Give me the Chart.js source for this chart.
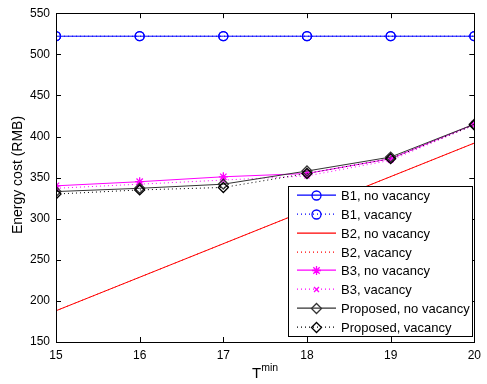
<!DOCTYPE html>
<html>
<head>
<meta charset="utf-8">
<script src="https://cdn.jsdelivr.net/npm/chart.js@4.4.1/dist/chart.umd.min.js"></script>
<style>
  html, body { margin: 0; padding: 0; background: #fff; }
  #wrap { width: 487px; height: 384px; }
</style>
</head>
<body>
<div id="wrap"><canvas id="c"></canvas></div>
<script>
// T^min values on x axis
const tmin = [15, 16, 17, 18, 19, 20];

// energy cost (RMB) per series
const b1NoVac = [522, 522, 522, 522, 522, 522];
const b1Vac = [522, 522, 522, 522, 522, 522];
const b2NoVac = [188, null, null, null, null, 392];
const b2Vac = [188, null, null, null, null, 392];
const b3NoVac = [340, 345, 351, 355, 373, 415];
const b3Vac = [337, 342, 347, 352, 371, 414];
const propNoVac = [333, 337, 342, 358, 375, 415];
const propVac = [330, 335, 338, 355, 373, 414];

const yTicks = [150, 200, 250, 300, 350, 400, 450, 500, 550];

const FONT = 'Liberation Sans, Arial, Helvetica, sans-serif';

function pts(arr) {
  return tmin.map((t, i) => ({ x: t, y: arr[i] }));
}

const series = [
  { label: 'B1, no vacancy', data: b1NoVac, color: '#0000ff', dotted: false, style: 'circle', r: 4.5 },
  { label: 'B1, vacancy', data: b1Vac, color: '#0000ff', dotted: true, style: 'circle', r: 4.5 },
  { label: 'B2, no vacancy', data: b2NoVac, color: '#ff0000', dotted: false, style: false, r: 0 },
  { label: 'B2, vacancy', data: b2Vac, color: '#ff0000', dotted: true, style: false, r: 0 },
  { label: 'B3, no vacancy', data: b3NoVac, color: '#ff00ff', dotted: false, style: 'star', r: 4.5 },
  { label: 'B3, vacancy', data: b3Vac, color: '#ff00ff', dotted: true, style: 'crossRot', r: 3.5 },
  { label: 'Proposed, no vacancy', data: propNoVac, color: '#333333', dotted: false, style: 'rectRot', r: 5 },
  { label: 'Proposed, vacancy', data: propVac, color: '#000000', dotted: true, style: 'rectRot', r: 5 }
];

const datasets = series.map((s, i) => ({
  label: s.label,
  data: pts(s.data),
  borderColor: s.color,
  backgroundColor: 'rgba(0,0,0,0)',
  borderWidth: 1,
  borderDash: s.dotted ? [1, 3] : [],
  pointStyle: s.style,
  pointRadius: s.r,
  pointBorderColor: s.color,
  pointBackgroundColor: 'rgba(0,0,0,0)',
  pointBorderWidth: 1.3,
  spanGaps: true,
  tension: 0,
  order: series.length - i
}));

// frame, inward ticks, axis titles and MATLAB-like legend
const decor = {
  id: 'decor',
  afterDatasetsDraw(chart) {
    const ctx = chart.ctx;
    const a = chart.chartArea;
    const xs = chart.scales.x, ys = chart.scales.y;
    ctx.save();
    ctx.strokeStyle = '#000';
    ctx.lineWidth = 1;
    ctx.setLineDash([]);
    ctx.strokeRect(Math.round(a.left) + 0.5, Math.round(a.top) + 0.5,
      Math.round(a.right - a.left), Math.round(a.bottom - a.top));
    const tl = 5;
    ctx.beginPath();
    tmin.forEach(t => {
      const x = Math.round(xs.getPixelForValue(t)) + 0.5;
      ctx.moveTo(x, a.bottom); ctx.lineTo(x, a.bottom - tl);
      ctx.moveTo(x, a.top); ctx.lineTo(x, a.top + tl);
    });
    yTicks.forEach(v => {
      const y = Math.round(ys.getPixelForValue(v)) + 0.5;
      ctx.moveTo(a.left, y); ctx.lineTo(a.left + tl, y);
      ctx.moveTo(a.right, y); ctx.lineTo(a.right - tl, y);
    });
    ctx.stroke();

    // legend box
    const lx = 288, ly = 186, lw = 184, lh = 150;
    ctx.fillStyle = '#fff';
    ctx.fillRect(lx, ly, lw, lh);
    ctx.strokeStyle = '#000';
    ctx.strokeRect(lx + 0.5, ly + 0.5, lw, lh);
    ctx.restore();

    const rowH = lh / series.length;
    series.forEach((s, i) => {
      const cy = Math.round(ly + rowH * (i + 0.5)) + 0.5;
      ctx.save();
      ctx.lineWidth = 1.2;
      ctx.setLineDash(s.dotted ? [1, 3] : []);
      ctx.strokeStyle = s.color;
      ctx.beginPath();
      ctx.moveTo(297, cy - 0.3);
      ctx.lineTo(336, cy - 0.3);
      ctx.stroke();
      ctx.restore();
      if (s.style && Chart.helpers && Chart.helpers.drawPoint) {
        ctx.save();
        ctx.setLineDash([]);
        ctx.lineWidth = 1.3;
        ctx.strokeStyle = s.color;
        ctx.fillStyle = 'rgba(0,0,0,0)';
        Chart.helpers.drawPoint(ctx, { pointStyle: s.style, radius: s.r, rotation: 0, borderWidth: 1.3 }, 316.5, cy);
        ctx.restore();
      }
      ctx.save();
      ctx.font = '13px ' + FONT;
      ctx.textBaseline = 'middle';
      ctx.textAlign = 'left';
      ctx.fillStyle = '#000';
      ctx.fillText(s.label, 341, cy + 0.5);
      ctx.restore();
    });

    // axis titles
    ctx.save();
    ctx.fillStyle = '#000';
    ctx.textBaseline = 'alphabetic';
    ctx.textAlign = 'left';
    ctx.font = '15px ' + FONT;
    const tw = ctx.measureText('T').width;
    ctx.font = '10.5px ' + FONT;
    const mw = ctx.measureText('min').width;
    const cx = (a.left + a.right) / 2 - (tw + mw) / 2;
    ctx.font = '15px ' + FONT;
    ctx.fillText('T', cx, 378);
    ctx.font = '10.5px ' + FONT;
    ctx.fillText('min', cx + tw, 371);

    ctx.font = '14px ' + FONT;
    ctx.translate(22, 175);
    ctx.rotate(-Math.PI / 2);
    ctx.textAlign = 'center';
    ctx.fillText('Energy cost (RMB)', 0, 0);
    ctx.restore();
  }
};

new Chart(document.getElementById('c').getContext('2d'), {
  type: 'line',
  data: { datasets },
  options: {
    responsive: true,
    maintainAspectRatio: false,
    animation: false,
    devicePixelRatio: 1,
    layout: { padding: { top: 11, right: 6, left: 0, bottom: 0 } },
    plugins: { legend: { display: false }, tooltip: { enabled: false } },
    scales: {
      x: {
        type: 'linear',
        min: 15, max: 20,
        afterBuildTicks: s => { s.ticks = tmin.map(v => ({ value: v })); },
        ticks: { color: '#000', font: { family: FONT, size: 12 }, padding: 6 },
        grid: { display: false, drawTicks: false },
        border: { display: false },
        afterFit: s => { s.height = 42; }
      },
      y: {
        min: 150, max: 550,
        afterBuildTicks: s => { s.ticks = yTicks.map(v => ({ value: v })); },
        ticks: { color: '#000', font: { family: FONT, size: 12 }, padding: 6 },
        grid: { display: false, drawTicks: false },
        border: { display: false },
        afterFit: s => { s.width = 56; }
      }
    }
  },
  plugins: [decor]
});
</script>
</body>
</html>
